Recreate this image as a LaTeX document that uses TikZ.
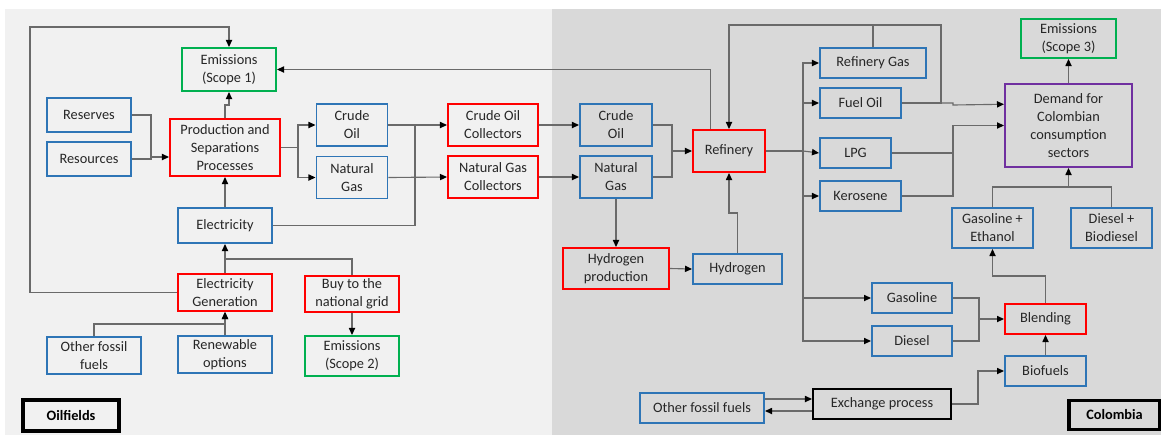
\documentclass[tikz,border=0pt]{standalone}
\usepackage{fontspec}
\setmainfont{Carlito}
\usetikzlibrary{arrows.meta,calc,positioning}
\definecolor{FlowBlue}{HTML}{2E75B6}
\definecolor{FlowRed}{HTML}{FF0000}
\definecolor{FlowGreen}{HTML}{00B050}
\definecolor{FlowPurple}{HTML}{7030A0}
\definecolor{FlowLine}{HTML}{6A6A6A}
\definecolor{FieldBg}{HTML}{F1F1F1}
\definecolor{CountryBg}{HTML}{D9D9D9}

\tikzset{
  box/.style={draw,line width=1.4pt,align=center,inner sep=1pt,
    font=\fontsize{10.2}{12.8}\selectfont,text=black!85},
  sz/.style 2 args={minimum width=#1*0.025cm,minimum height=#2*0.025cm},
  stock/.style={box,draw=FlowBlue},
  proc/.style={box,draw=FlowRed},
  emis/.style={box,draw=FlowGreen},
  flow/.style={draw=FlowLine,line width=0.8pt,-{Triangle[length=5pt,width=4.4pt,color=black]}},
  link/.style={draw=FlowLine,line width=0.8pt},
  zone/.style={draw=black,line width=2.4pt,inner sep=1pt,
    font=\fontsize{10.2}{12.8}\selectfont\bfseries}
}

\begin{document}
\begin{tikzpicture}[x=0.025cm,y=-0.025cm]
  \useasboundingbox (0,0) rectangle (1161,435);
  \fill[FieldBg] (5,9) rectangle (552,435);
  \fill[CountryBg] (552,9) rectangle (1161,435);

  % oilfields
  \node[emis,sz={94}{43}] (em1) at (229,69.5) {Emissions\\(Scope 1)};
  \node[stock,sz={84}{34}] (res) at (89,115) {Reserves};
  \node[stock,sz={84}{34}] (rsc) at (89,159) {Resources};
  \node[proc,sz={110}{57}] (prod) at (225,147.5) {Production and\\Separations\\Processes};
  \node[stock,sz={71}{42}] (coil) at (352,125) {Crude\\Oil};
  \node[stock,sz={71}{42}] (ngas) at (352,177.5) {Natural\\Gas};
  \node[stock,sz={94}{35}] (elec) at (225,225.5) {Electricity};
  \node[proc,sz={94}{37}] (egen) at (225,292.5) {Electricity\\Generation};
  \node[proc,sz={94}{36}] (grid) at (352,294) {Buy to the\\national grid};
  \node[emis,sz={94}{40}] (em2) at (352,356) {Emissions\\(Scope 2)};
  \node[stock,sz={94}{37}] (ofl) at (94,355.5) {Other fossil\\fuels};
  \node[stock,sz={94}{37}] (ren) at (225,354.5) {Renewable\\options};
  \node[zone,sz={96}{31}] (oilf) at (71,415.5) {Oilfields};
  \node[proc,sz={90}{42}] (ocol) at (493,125) {Crude Oil\\Collectors};
  \node[proc,sz={90}{42}] (ncol) at (493,177) {Natural Gas\\Collectors};

  % colombia
  \node[stock,sz={72}{42}] (rcoil) at (616,125) {Crude\\Oil};
  \node[stock,sz={72}{42}] (rngas) at (616,177) {Natural\\Gas};
  \node[proc,sz={72}{42}] (ref) at (729,151) {Refinery};
  \node[proc,sz={106}{41}] (hprod) at (616,268.5) {Hydrogen\\production};
  \node[stock,sz={89}{30}] (hyd) at (737.5,269) {Hydrogen};
  \node[stock,sz={124}{30}] (rofl) at (702,408) {Other fossil fuels};
  \node[box,draw=black,sz={138}{30}] (exch) at (882,404) {Exchange process};
  \node[stock,sz={80}{30}] (gsl) at (912,298) {Gasoline};
  \node[stock,sz={80}{30}] (dsl) at (912,341) {Diesel};
  \node[emis,sz={95}{39}] (em3) at (1068.5,38.5) {Emissions\\(Scope 3)};
  \node[stock,sz={106}{30}] (rgas) at (873,63) {Refinery Gas};
  \node[stock,sz={81}{30}] (foil) at (860.5,103) {Fuel Oil};
  \node[stock,sz={71}{30}] (lpg) at (855.5,153) {LPG};
  \node[stock,sz={81}{30}] (ker) at (860.5,196) {Kerosene};
  \node[box,draw=FlowPurple,sz={127}{83}] (dem) at (1068.5,125.5) {Demand for\\Colombian\\consumption\\sectors};
  \node[stock,sz={81}{40}] (gse) at (992.5,228) {Gasoline +\\Ethanol};
  \node[stock,sz={81}{40}] (dbd) at (1111.5,228) {Diesel +\\Biodiesel};
  \node[proc,sz={81}{30}] (bld) at (1045.5,319) {Blending};
  \node[stock,sz={81}{30}] (bio) at (1045.5,371) {Biofuels};
  \node[zone,sz={91}{29}] (col) at (1114.5,415) {Colombia};

  % junctions
  \coordinate (jr) at (151,157);
  \coordinate (jp) at (298,147.5);
  \coordinate (je) at (415,125);
  \coordinate (jc) at (672,151);
  \coordinate (jt) at (803,151);
  \coordinate (jl) at (953,125.5);
  \coordinate (jd) at (1068.5,187);
  \coordinate (jb) at (979,319);

  % oilfield flows
  \draw[flow] (egen.west) -| (30,27) -| (em1.north);
  \draw[flow] ($(ref.north west)!.25!(ref.north east)$) |- (em1.east);
  \draw[flow] (prod.north) -- (225,105) -| (em1.south);
  \draw[link] (res.east) -| (jr);
  \draw[flow] (rsc.east) -| (jr) -- (jr -| prod.west);
  \draw[flow] (prod.east) -- (jp) |- (coil.west);
  \draw[flow] (jp) |- (ngas.west);
  \draw[flow] (coil.east) -- (ocol.west);
  \draw[flow] (ngas.east) -- (ncol.west);
  \draw[link] (elec.east) -| (je);
  \draw[flow] (elec.north) -- (prod.south);
  \draw[flow] (egen.north) -- (elec.south);
  \draw[link] (grid.north) |- (225,259);
  \draw[flow] (grid.south) -- (em2.north);
  \draw[flow] (ofl.north) |- (225,324) -- (egen.south);
  \draw[flow] (ren.north) -- (egen.south);
  \draw[flow] (ocol.east) -- (rcoil.west);
  \draw[flow] (ncol.east) -- (rngas.west);

  % refinery flows
  \draw[flow] (rcoil.east) -| (jc) -- (ref.west);
  \draw[link] (rngas.east) -| (jc);
  \draw[flow] (rngas.south) -- (hprod.north);
  \draw[flow] (hprod.east) -- (hyd.west);
  \draw[flow] (hyd.north) |- (729,213) -- (ref.south);
  \draw[link] (ref.east) -- (jt);
  \draw[flow] (jt) |- (rgas.west);
  \draw[flow] (jt) |- (foil.west);
  \draw[flow] (jt) -- (lpg.west);
  \draw[flow] (jt) |- (ker.west);
  \draw[flow] (jt) |- (gsl.west);
  \draw[flow] (jt) |- (dsl.west);
  \draw[flow] (foil.east) -| (941,25) -| (ref.north);
  \draw[link] (rgas.north) -- (873,25);
  \draw[flow] (foil.east) -- (953,103) -- (953,105) -- ($(dem.north west)!.25!(dem.south west)$);
  \draw[flow] (lpg.east) -| (jl) -- (dem.west);
  \draw[link] (ker.east) -| (jl);
  \draw[flow] (dem.north) -- (em3.south);
  \draw[flow] (gse.north) |- (jd) -- (dem.south);
  \draw[link] (dbd.north) |- (jd);
  \draw[flow] (bld.north) -- (1045.5,276) -| (gse.south);
  \draw[flow] (gsl.east) -| (jb) -- (bld.west);
  \draw[link] (dsl.east) -| (jb);
  \draw[flow] (bio.north) -- (bld.south);
  \draw[flow] (exch.east) -| (978,371) -- (bio.west);
  \draw[flow] ($(rofl.east)+(0,-9)$) -- ($(exch.west)+(0,-5)$);
  \draw[flow] ($(exch.west)+(0,7)$) -- ($(rofl.east)+(0,3)$);
\end{tikzpicture}
\end{document}
